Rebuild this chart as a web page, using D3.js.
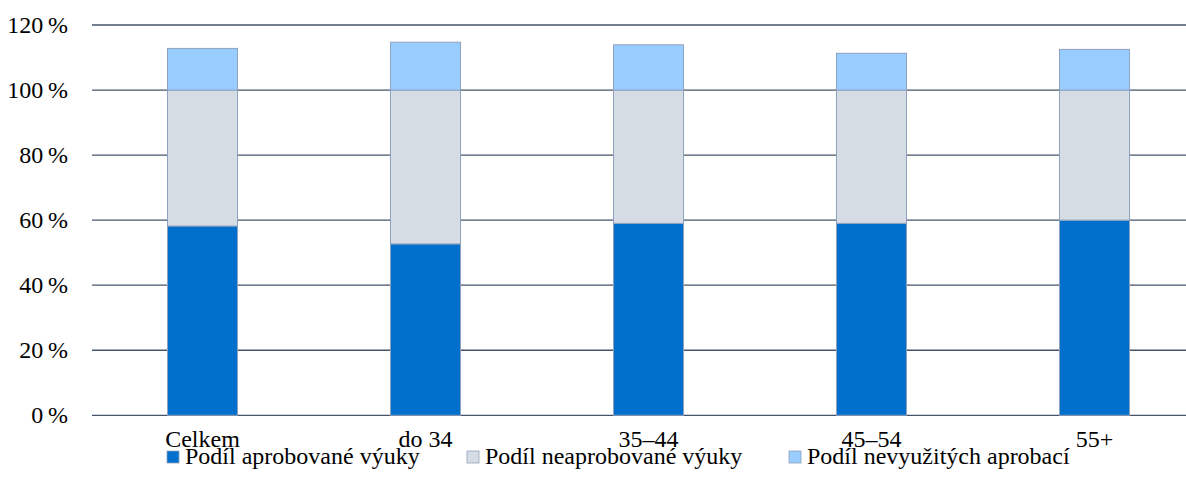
<!DOCTYPE html>
<html>
<head>
<meta charset="utf-8">
<script src="https://cdn.jsdelivr.net/npm/d3@7"></script>
<style>
  body { margin: 0; background: #fff; }
  svg { display: block; }
  svg text { font-family: "Liberation Serif", "Times New Roman", serif; fill: #000; }
</style>
</head>
<body>
<svg id="chart" width="1186" height="493"></svg>
<script>
// Age groups and shares (%) of teaching by qualification
const categories = ["Celkem", "do 34", "35–44", "45–54", "55+"];
const aprobovane = [58.2, 52.7, 59.0, 59.0, 60.0];
const neaprobovane = [41.8, 47.3, 41.0, 41.0, 40.0];
const nevyuzite = [12.8, 14.7, 13.9, 11.3, 12.5];
const yTicks = [0, 20, 40, 60, 80, 100, 120];
const seriesNames = ["Podíl aprobované výuky", "Podíl neaprobované výuky", "Podíl nevyužitých aprobací"];
const seriesColors = ["#0070CC", "#D6DCE4", "#99CCFF"];

const svg = d3.select("#chart");
const plotLeft = 91, plotRight = 1206, plotTop = 25, plotBottom = 415.3;
const fontSize = 24;

const x = d3.scaleBand().domain(categories).range([plotLeft, plotRight]).padding(0);
const y = d3.scaleLinear().domain([0, 120]).range([plotBottom, plotTop]);
const barW = x.bandwidth() * 0.314;

// horizontal gridlines
svg.append("g").selectAll("line").data(yTicks).join("line")
  .attr("x1", 92).attr("x2", 1186)
  .attr("y1", d => y(d)).attr("y2", d => y(d))
  .attr("stroke", "#44546A").attr("stroke-width", 1.3);

// y tick labels
svg.append("g").selectAll("text").data(yTicks).join("text")
  .attr("x", 68).attr("y", d => y(d)).attr("dy", "0.32em")
  .attr("text-anchor", "end").style("font-size", fontSize + "px")
  .text(d => d + "\u2009%");

// stacked segments
const rows = categories.map((c, i) => ({ cat: c, a: aprobovane[i], n: neaprobovane[i], v: nevyuzite[i] }));
const stack = d3.stack().keys(["a", "n", "v"])(rows);

const gBars = svg.append("g");
stack.forEach((layer, li) => {
  gBars.append("g").selectAll("rect").data(layer).join("rect")
    .attr("x", d => x(d.data.cat) + x.bandwidth() / 2 - barW / 2)
    .attr("width", barW)
    .attr("y", d => y(d[1]))
    .attr("height", d => y(d[0]) - y(d[1]))
    .attr("fill", seriesColors[li])
    .attr("stroke", "#8FA2BF").attr("stroke-width", 1);
});

// category labels
svg.append("g").selectAll("text").data(categories).join("text")
  .attr("x", d => x(d) + x.bandwidth() / 2).attr("y", 447)
  .attr("text-anchor", "middle").style("font-size", fontSize + "px")
  .text(d => d);

// legend
const legendX = [167, 467, 789];
const lg = svg.append("g").selectAll("g").data(seriesNames).join("g")
  .attr("transform", (d, i) => `translate(${legendX[i]},0)`);
lg.append("rect").attr("x", 0).attr("y", 451).attr("width", 12).attr("height", 12)
  .attr("fill", (d, i) => seriesColors[i]).attr("stroke", "#8FA2BF").attr("stroke-width", 0.8);
lg.append("text").attr("x", 18).attr("y", 464).style("font-size", fontSize + "px").text(d => d);
</script>
</body>
</html>
